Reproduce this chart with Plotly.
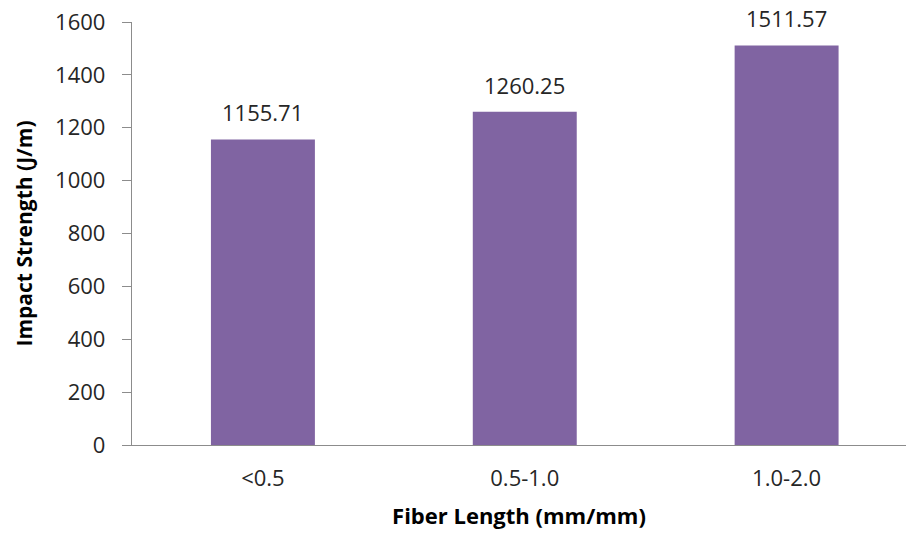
import plotly.graph_objects as go

categories = ["<0.5", "0.5-1.0", "1.0-2.0"]
impact_strength = [1155.71, 1260.25, 1511.57]
y_ticks = [0, 200, 400, 600, 800, 1000, 1200, 1400, 1600]

bar_color = "#8064A2"
text_color = "#262626"
axis_color = "#8C8C8C"
font_family = "Open Sans, DejaVu Sans, sans-serif"

fig = go.Figure()
fig.add_trace(go.Bar(
    x=list(range(len(categories))),
    y=impact_strength,
    width=0.397,
    marker=dict(color=bar_color, line=dict(width=0)),
    hoverinfo="skip",
))

# value labels above each bar
for i, v in enumerate(impact_strength):
    fig.add_annotation(
        x=i, y=v, text=f"{v:.2f}", showarrow=False,
        yanchor="bottom", yshift=10,
        font=dict(family=font_family, size=22, color=text_color),
    )

fig.update_layout(
    width=907, height=535,
    margin=dict(l=132, r=1, t=22, b=90),
    paper_bgcolor="white", plot_bgcolor="white",
    showlegend=False,
    font=dict(family=font_family, color=text_color),
    xaxis=dict(
        tickmode="array",
        tickvals=list(range(len(categories))),
        ticktext=categories,
        range=[-0.5, 2.456],
        showgrid=False, zeroline=False,
        showline=True, linecolor=axis_color, linewidth=1.3,
        ticks="", ticklabelstandoff=13,
        tickfont=dict(family=font_family, size=22, color=text_color),
        title=dict(text="<b>Fiber Length (mm/mm)</b>", standoff=18,
                   font=dict(family=font_family, size=22, color="black")),
    ),
    yaxis=dict(
        range=[0, 1600],
        tickmode="array", tickvals=y_ticks,
        showgrid=False, zeroline=False,
        showline=True, linecolor=axis_color, linewidth=1.3,
        ticks="outside", ticklen=9, tickcolor=axis_color, tickwidth=1.3,
        ticklabelstandoff=12,
        tickfont=dict(family=font_family, size=22, color=text_color),
        title=dict(text="<b>Impact Strength (J/m)</b>", standoff=16,
                   font=dict(family=font_family, size=21, color="black")),
    ),
)

fig.write_html("out.html")
